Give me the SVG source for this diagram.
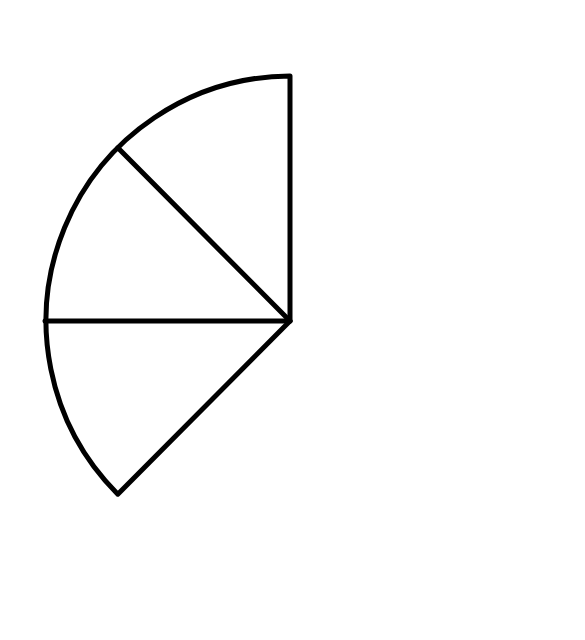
<svg xmlns="http://www.w3.org/2000/svg" width="585" height="640" viewBox="0 0 585 640">
<style>.s{fill:none;stroke:#000;stroke-width:5;stroke-linejoin:round;stroke-linecap:round}</style>
<rect width="585" height="640" fill="#fff"/>
<g id="sector">
<path class="s" d="M290 321 L290 76 A245 245 0 0 0 117.8 494.2 Z"/>
</g>
<g id="connectors">
<line class="s" x1="290" y1="321" x2="117.8" y2="147.8"/>
<line class="s" x1="290" y1="321" x2="45" y2="321"/>
</g>
</svg>
